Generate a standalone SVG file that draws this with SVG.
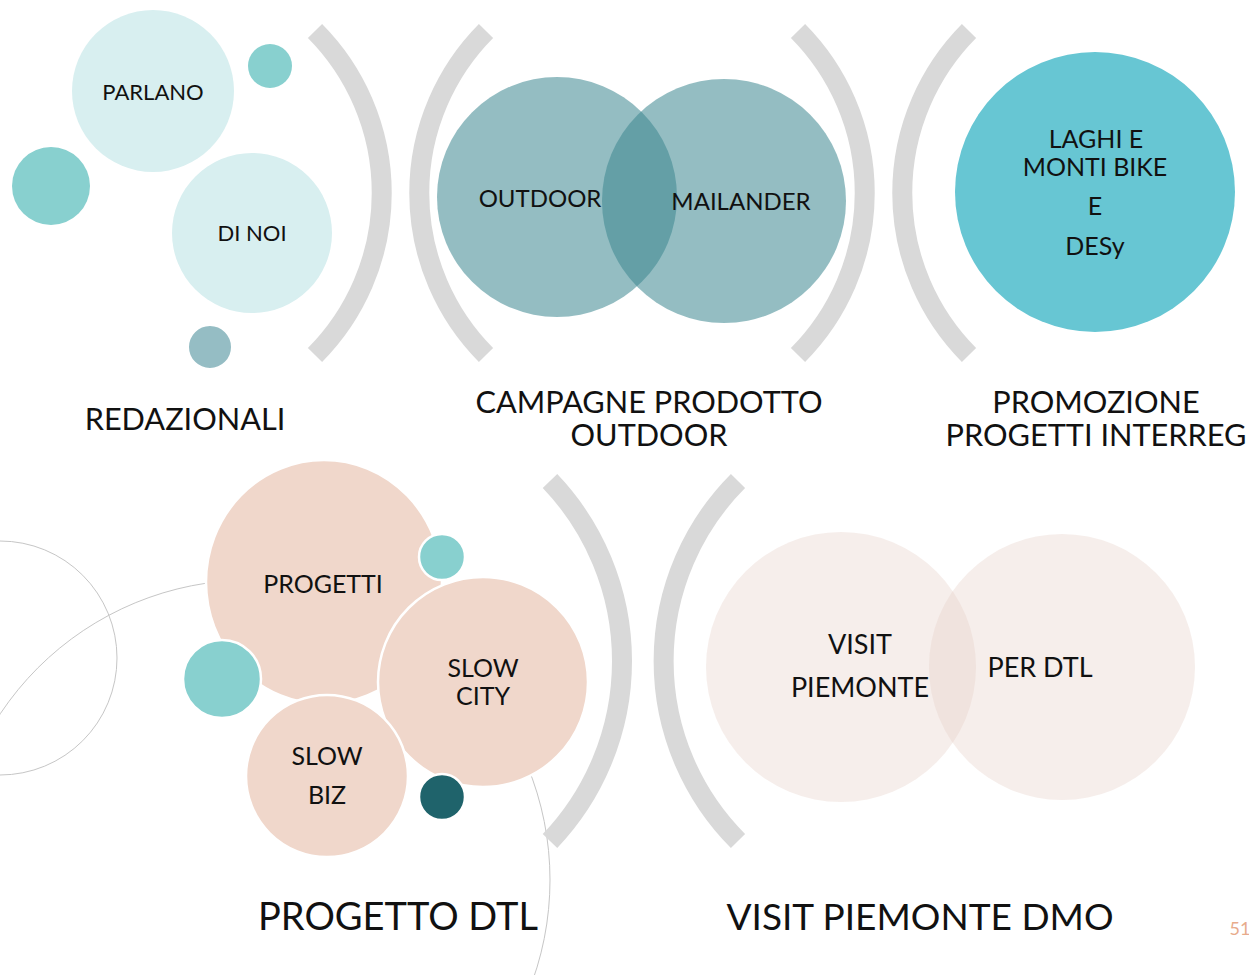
<svg xmlns="http://www.w3.org/2000/svg" width="1249" height="975" viewBox="0 0 1249 975">
<style>
text{font-family:Lato,"Noto Sans",sans-serif;fill:#111;text-anchor:middle;dominant-baseline:central}
.br{fill:none;stroke:#d9d9d9;stroke-width:20;stroke-linecap:butt}
.thin{fill:none;stroke:#c6c6c6;stroke-width:1}
.light{fill:#d8eff0}
.teal{fill:#88d0cf}
.pk{fill:#f0d7cb;stroke:#fff;stroke-width:2.5}
.vt{fill:#3c8790;fill-opacity:0.55}
.vp{fill:#e4cfc5;fill-opacity:0.35}
.s22{font-size:22px}.s24{font-size:24px}.s25{font-size:25px}.s27{font-size:27px}.s30{font-size:30.7px}.s38{font-size:38px}.s37{font-size:37px}
</style>
<rect width="1249" height="975" fill="#fff"/>
<g id="decor">
<circle class="thin" cx="0" cy="658" r="117"/>
<circle class="thin" cx="250" cy="880" r="300"/>
</g>
<g id="connectors">
<path class="br" d="M315,31 A230,230 0 0 1 315,355"/>
<path class="br" d="M486,31 A230,230 0 0 0 486,355"/>
<path class="br" d="M798,31 A230,230 0 0 1 798,355"/>
<path class="br" d="M969,31 A230,230 0 0 0 969,355"/>
<path class="br" d="M550,481 A261,261 0 0 1 550,841"/>
<path class="br" d="M738,481 A255,255 0 0 0 738,841"/>
</g>
<g id="redazionali">
<circle class="light" cx="153" cy="91" r="81"/>
<circle class="teal" cx="270" cy="66" r="22"/>
<circle class="teal" cx="51" cy="186" r="39"/>
<circle class="light" cx="252" cy="233" r="80"/>
<circle cx="210" cy="347" r="22" fill="#95bdc4" stroke="#fff" stroke-width="2"/>
<text class="s22" x="153" y="91">PARLANO</text>
<text class="s22" x="252" y="232">DI NOI</text>
<text class="s30" x="185" y="418">REDAZIONALI</text>
</g>
<g id="campagne">
<circle class="vt" cx="557" cy="197" r="120"/>
<circle class="vt" cx="724" cy="201" r="122"/>
<text class="s24" x="540" y="197">OUTDOOR</text>
<text class="s24" x="741" y="200">MAILANDER</text>
<text class="s30" x="649" y="401">CAMPAGNE PRODOTTO</text>
<text class="s30" x="649" y="434">OUTDOOR</text>
</g>
<g id="interreg">
<circle cx="1095" cy="192" r="140" fill="#67c6d3"/>
<text class="s25" x="1096" y="138">LAGHI E</text>
<text class="s25" x="1095" y="166">MONTI BIKE</text>
<text class="s25" x="1095" y="205">E</text>
<text class="s25" x="1095" y="245">DESy</text>
<text class="s30" x="1096" y="401">PROMOZIONE</text>
<text class="s30" x="1096" y="434">PROGETTI INTERREG</text>
</g>
<g id="dtl">
<ellipse class="pk" cx="324" cy="582" rx="118" ry="122"/>
<circle class="teal" cx="442" cy="557" r="23" stroke="#fff" stroke-width="2.5"/>
<circle class="teal" cx="222" cy="679" r="39" stroke="#fff" stroke-width="2.5"/>
<circle class="pk" cx="483" cy="682" r="105"/>
<circle class="pk" cx="327" cy="776" r="81"/>
<circle cx="442" cy="797" r="23" fill="#1f636b" stroke="#fff" stroke-width="2.5"/>
<text class="s25" x="323" y="583">PROGETTI</text>
<text class="s25" x="483" y="667">SLOW</text>
<text class="s25" x="483" y="695">CITY</text>
<text class="s25" x="327" y="755">SLOW</text>
<text class="s25" x="327" y="794">BIZ</text>
<text class="s38" x="398" y="915">PROGETTO DTL</text>
</g>
<g id="dmo">
<circle class="vp" cx="841" cy="667" r="135"/>
<circle class="vp" cx="1062" cy="667" r="133"/>
<text class="s27" x="860" y="643">VISIT</text>
<text class="s27" x="860" y="686">PIEMONTE</text>
<text class="s27" x="1040" y="666">PER DTL</text>
<text class="s37" x="920" y="915">VISIT PIEMONTE DMO</text>
</g>
<text x="1240" y="928" style="font-size:18px;fill:#e8ab8c">51</text>
</svg>
